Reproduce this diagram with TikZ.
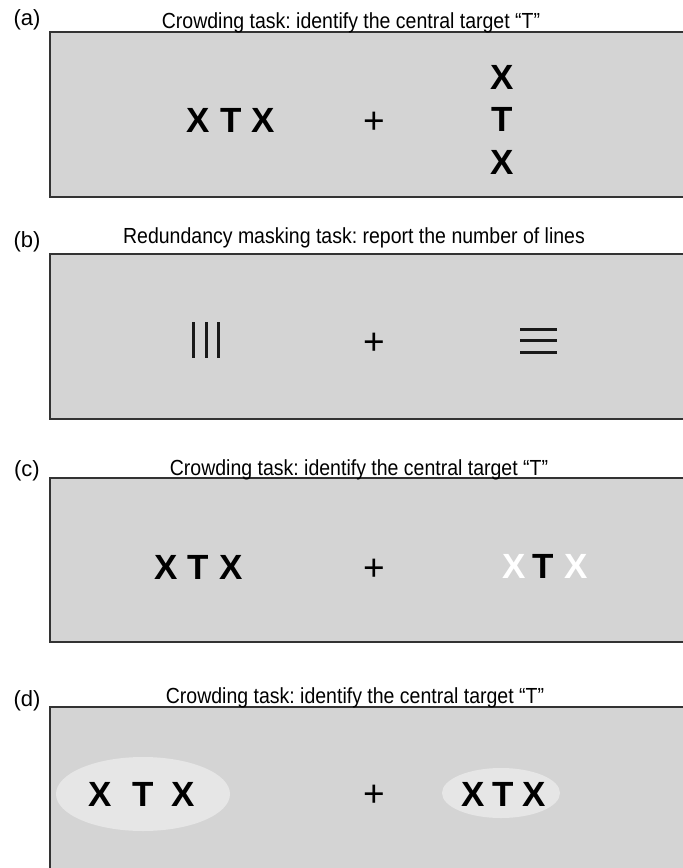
\documentclass[tikz,border=0pt]{standalone}
\usepackage{fontspec}
\setmainfont{Liberation Sans}
\frenchspacing
\definecolor{boxgray}{HTML}{D4D4D4}
\definecolor{boxedge}{HTML}{333333}
\definecolor{ovalgray}{HTML}{E6E6E6}
\tikzset{
  panel/.style={fill=boxgray, draw=boxedge, line width=2.2pt},
  oval/.style={fill=ovalgray, draw=none},
  ttl/.style={anchor=base, inner sep=0pt, font=\fontsize{19.5}{22}\selectfont},
  lbl/.style={anchor=base, inner sep=0pt, font=\fontsize{22}{24}\selectfont},
  ltr/.style={anchor=base, inner sep=0pt, font=\fontsize{35}{40}\selectfont\bfseries},
  fixc/.style={anchor=base, inner sep=0pt, font=\fontsize{37}{40}\selectfont},
  bar/.style={line width=3pt, draw=black!90},
}
\newcommand{\tallt}[1]{\scalebox{1}[1.12]{#1}}
\begin{document}
\begin{tikzpicture}[x=1pt,y=-1pt]
\useasboundingbox (0,0) rectangle (683,868);
\clip (0,0) rectangle (683,868);
% panel (a)
\draw[panel] (50,32) rectangle (700,197);
\node[lbl] (la) at (27,25) {(a)};
\node[ttl] (ta) at (351,28) {\tallt{Crowding task: identify the central target “T”}};
\node[ltr] (a1) at (198,132.5) {X};
\node[ltr] (a2) at (231,132.5) {T};
\node[ltr] (a3) at (263,132.5) {X};
\node[fixc] (fa) at (374,133) {+};
\node[ltr] (v1) at (502,89.5) {X};
\node[ltr] (v2) at (502,131.5) {T};
\node[ltr] (v3) at (502,174.5) {X};
% panel (b)
\draw[panel] (50,254) rectangle (700,419);
\node[lbl] (lb) at (27,247) {(b)};
\node[ttl] (tb) at (354,243) {\tallt{Redundancy masking task: report the number of lines}};
\draw[bar] (193,322) -- (193,358);
\draw[bar] (206,322) -- (206,358);
\draw[bar] (218,322) -- (218,358);
\node[fixc] (fb) at (374,354) {+};
\draw[bar] (520,329) -- (557,329);
\draw[bar] (520,340.5) -- (557,340.5);
\draw[bar] (520,352) -- (557,352);
% panel (c)
\draw[panel] (50,478) rectangle (700,642);
\node[lbl] (lc) at (27,476) {(c)};
\node[ttl] (tc) at (359,475) {\tallt{Crowding task: identify the central target “T”}};
\node[ltr] (c1) at (166,579.5) {X};
\node[ltr] (c2) at (198,579.5) {T};
\node[ltr] (c3) at (231,579.5) {X};
\node[fixc] (fc) at (374,580) {+};
\node[ltr, text=white] (c4) at (514,578.5) {X};
\node[ltr] (c5) at (543,578.5) {T};
\node[ltr, text=white] (c6) at (576,578.5) {X};
% panel (d)
\draw[panel] (50,707) rectangle (700,890);
\node[lbl] (ld) at (27,706) {(d)};
\node[ttl] (td) at (355,703) {\tallt{Crowding task: identify the central target “T”}};
\fill[oval] (143,794) ellipse [x radius=87, y radius=37];
\fill[oval] (501,793) ellipse [x radius=59, y radius=25];
\node[ltr] (d1) at (100,806.5) {X};
\node[ltr] (d2) at (143,806.5) {T};
\node[ltr] (d3) at (183,806.5) {X};
\node[fixc] (fd) at (374,806) {+};
\node[ltr] (d4) at (473,806) {X};
\node[ltr] (d5) at (503,806) {T};
\node[ltr] (d6) at (534,806) {X};
\end{tikzpicture}
\end{document}
